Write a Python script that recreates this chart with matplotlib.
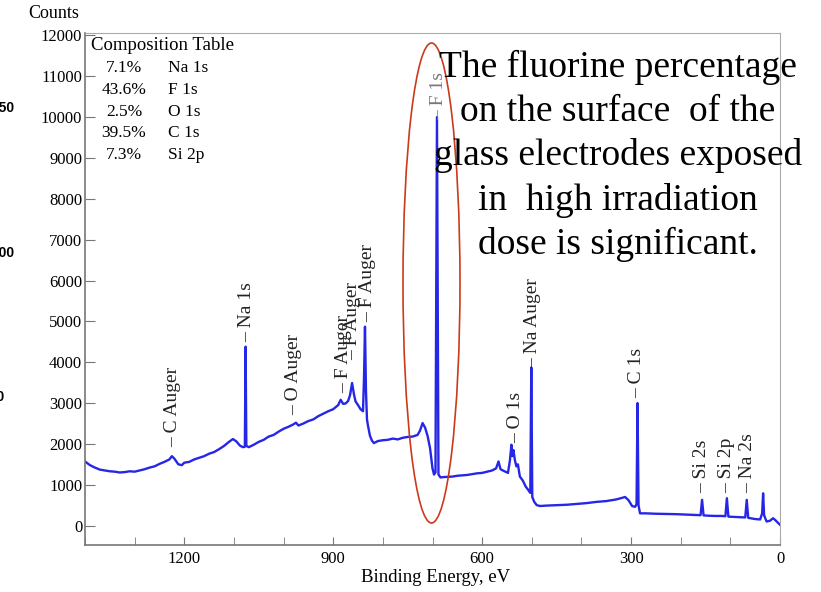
import matplotlib
matplotlib.use("Agg")
import matplotlib.pyplot as plt
from matplotlib.patches import Ellipse
from matplotlib.ticker import MultipleLocator

plt.rcParams['font.family'] = ['Liberation Serif', 'DejaVu Serif']

# spectrum (binding energy in eV, counts)
energy = [1400, 1390, 1380, 1370, 1360, 1350, 1340, 1330, 1320, 1310, 1300, 1290, 1280,
          1270, 1260, 1250, 1240, 1230, 1225, 1220, 1212, 1205, 1200, 1190, 1180, 1170,
          1160, 1150, 1140, 1130, 1120, 1110, 1102, 1095, 1088, 1082, 1078, 1076.5, 1075,
          1070, 1060, 1050, 1040, 1030, 1020, 1010, 1000, 990, 980, 975, 970, 960, 950,
          940, 930, 920, 910, 900, 890, 885, 880, 875, 870, 866, 862, 858, 855, 850, 845,
          840, 838, 836, 834, 832, 830, 826, 822, 818, 810, 800, 790, 780, 770, 760, 750,
          740, 730, 725, 720, 715, 710, 705, 700, 697, 694, 691, 688, 684, 675, 660, 650,
          640, 630, 620, 610, 600, 590, 580, 572, 567, 563, 555, 548, 544, 541, 539, 537,
          534, 531, 528, 524, 518, 512, 507, 503, 501, 499, 495, 490, 483, 470, 450, 430,
          410, 390, 370, 350, 330, 318, 312, 305, 298, 292, 289, 287, 285, 282, 270, 250,
          230, 210, 190, 170, 160, 157, 154, 140, 125, 121, 110, 107, 104, 90, 80, 70, 67,
          64, 50, 40, 36, 34, 32, 27, 20, 14, 10, 5, 0]
counts = [1570, 1480, 1420, 1370, 1350, 1330, 1320, 1300, 1310, 1330, 1320, 1350, 1380,
          1420, 1450, 1510, 1560, 1620, 1700, 1640, 1500, 1480, 1540, 1560, 1620, 1660,
          1700, 1760, 1800, 1870, 1950, 2050, 2120, 2060, 1960, 1920, 1930, 4380, 1950,
          1920, 1980, 2050, 2100, 2180, 2220, 2300, 2370, 2420, 2480, 2520, 2450, 2500, 2560,
          2600, 2680, 2740, 2800, 2850, 2950, 3080, 2980, 2990, 3050, 3200, 3490, 3200, 3040, 2950, 2850,
          2800, 3600, 4870, 3300, 2600, 2450, 2200, 2080, 2020, 2070, 2090, 2100, 2130, 2110, 2150, 2170,
          2180, 2220, 2330, 2510, 2400, 2200, 1900, 1400, 1250, 1300, 10000, 1250, 1180, 1190, 1200, 1220,
          1230, 1240, 1260, 1280, 1290, 1320, 1350, 1400, 1570, 1380, 1330, 1290, 1600, 1980, 1700, 1850,
          1600, 1450, 1500, 1200, 1100, 950, 870, 800, 3870, 700, 580, 500, 480, 490, 500, 510,
          530, 550, 580, 600, 640, 680, 700, 620, 480, 460, 520, 3000, 500, 300, 300, 290,
          285, 280, 270, 260, 255, 630, 250, 240, 235, 238, 230, 670, 220, 210, 205, 200, 630,
          190, 160, 150, 300, 790, 250, 100, 120, 180, 140, 80, 20]

# peak labels
peak_names = ["C Auger", "Na 1s", "O Auger", "F Auger", "F Auger", "F Auger", "F 1s",
              "O 1s", "Na Auger", "C 1s", "Si 2s", "Si 2p", "Na 2s"]
peak_pos = [1224, 1075, 980, 880, 860, 831, 687, 533, 499, 288, 157, 107, 66]
peak_y = [1930, 4500, 2710, 3250, 4060, 4990, 9940, 2025, 3860, 3130, 800, 800, 800]

comp_pct = ["7.1%", "43.6%", "2.5%", "39.5%", "7.3%"]
comp_el = ["Na 1s", "F 1s", "O 1s", "C 1s", "Si 2p"]

note = ("The fluorine percentage\non the surface  of the\nglass electrodes exposed\n"
        "in  high irradiation\ndose is significant.")

W, H = 821, 592
fig = plt.figure(figsize=(W / 100, H / 100), dpi=100)
ax = fig.add_axes([85 / W, 1 - 545 / H, (780 - 85) / W, (545 - 33) / H])

ax.plot(energy, counts, color='#2626e6', lw=1.7)
ax.set_xlim(1400, 0)
ax.set_ylim(-475, 12060)

ax.set_xticks([1200, 900, 600, 300, 0])
ax.xaxis.set_minor_locator(MultipleLocator(100))
ax.set_yticks(range(0, 12001, 1000))
ax.tick_params(axis='x', which='both', direction='in', length=6, color='#777777',
               labelsize=12, pad=4)
ax.tick_params(axis='y', direction='in', length=7, color='#777777', labelsize=12, pad=2)
for side in ['left', 'bottom']:
    ax.spines[side].set_color('#777777')
    ax.spines[side].set_linewidth(1.2)
for side in ['top', 'right']:
    ax.spines[side].set_color('#aaaaaa')

for name, e, y in zip(peak_names, peak_pos, peak_y):
    col = '#777777' if name == "F 1s" else '#222222'
    ax.text(e, y, "\u2013 " + name, rotation=90, ha='center', va='bottom',
            fontsize=14, color=col)

# composition table
fig.text(91 / W, 1 - 45 / H, "Composition Table", fontsize=13.5, va='center')
for i, (p, el) in enumerate(zip(comp_pct, comp_el)):
    yy = 1 - (68.3 + i * 21.7) / H
    fig.text(124 / W, yy, p, fontsize=12.5, ha='center', va='center')
    fig.text(168 / W, yy, el, fontsize=12.5, ha='left', va='center')

fig.text(54 / W, 1 - 13 / H, "Counts", fontsize=13, ha='center', va='center')
fig.text(436 / W, 1 - 578 / H, "Binding Energy, eV", fontsize=13.5, ha='center', va='center')

fig.text(618 / W, 1 - 156 / H, note, fontsize=27, ha='center', va='center',
         multialignment='center', linespacing=1.35)

fig.patches.append(Ellipse((431.5 / W, 1 - 283 / H), 57 / W, 480 / H,
                           transform=fig.transFigure, fill=False,
                           edgecolor='#cc3a1a', lw=1.2))

# cut-off labels from a neighbouring slide
for txt, xx, yy in [("250", -8, 108), ("200", -8, 253), ("100", -19, 397)]:
    fig.text(xx / W, 1 - yy / H, txt, fontsize=10, fontweight='bold',
             family='Liberation Sans', va='center', ha='left')

fig.savefig("out.png", dpi=100)
